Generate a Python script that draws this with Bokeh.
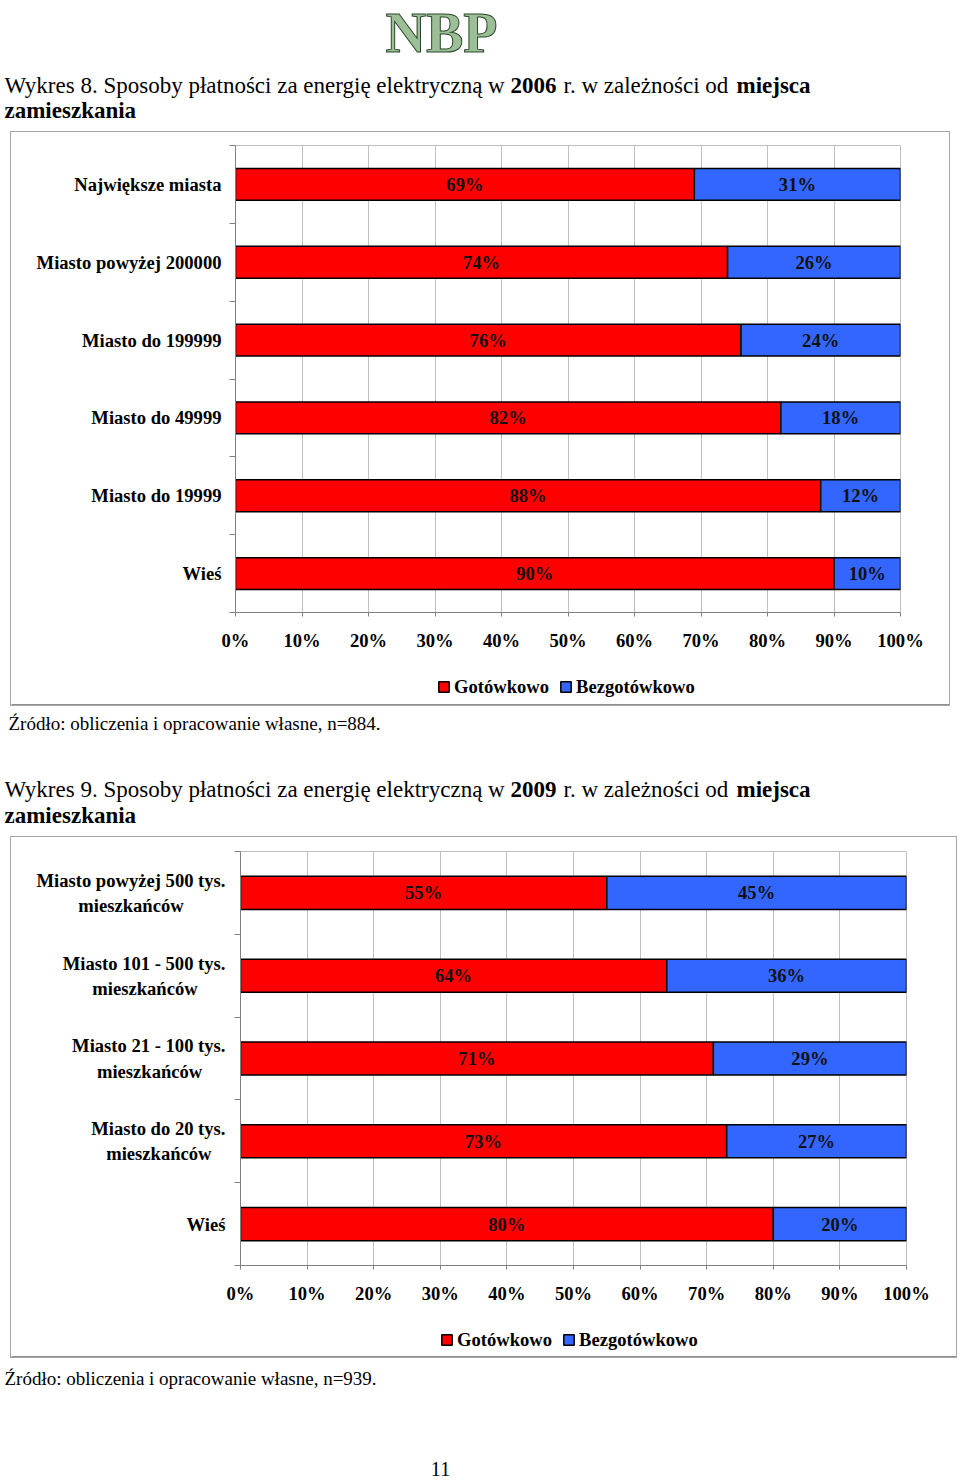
from bokeh.plotting import figure
from bokeh.models import (ColumnDataSource, Range1d, FixedTicker, Legend,
                          LegendItem, PrintfTickFormatter, Spacer)
from bokeh.layouts import column, row
from bokeh.embed import file_html
from bokeh.resources import INLINE
from bokeh.core.properties import value

# ---------------- data ----------------
categories_2006 = ["Największe miasta", "Miasto powyżej 200000", "Miasto do 199999",
                   "Miasto do 49999", "Miasto do 19999", "Wieś"]
cash_2006 = [69, 74, 76, 82, 88, 90]
noncash_2006 = [31, 26, 24, 18, 12, 10]

# two-line labels; trailing no-break spaces centre the second line under the first
NB = "\u00a0"
categories_2009 = ["Miasto powyżej 500 tys.\nmieszkańców" + NB * 9,
                   "Miasto 101 - 500 tys.\nmieszkańców" + NB * 6,
                   "Miasto 21 - 100 tys.\nmieszkańców" + NB * 5,
                   "Miasto do 20 tys.\nmieszkańców" + NB * 3,
                   "Wieś"]
cash_2009 = [55, 64, 71, 73, 80]
noncash_2009 = [45, 36, 29, 27, 20]

x_ticks = [0, 10, 20, 30, 40, 50, 60, 70, 80, 90, 100]
series_names = ["Gotówkowo", "Bezgotówkowo"]

# ---------------- style ----------------
SERIF = "Liberation Serif"
RED = "#FF0000"
BLUE = "#3366FF"
BOX = "#a6a6a6"
PAGE_W = 960
FS = "18.6px"
BAR_STYLE = dict(line_color="black", line_width=1.5)


def text_fig(top, bottom):
    """A figure used only for page text; y runs downward in page pixels."""
    f = figure(width=PAGE_W, height=bottom - top, output_backend="svg",
               toolbar_location=None, x_range=Range1d(0, PAGE_W),
               y_range=Range1d(bottom, top), x_axis_type=None, y_axis_type=None,
               min_border=0, outline_line_color=None)
    f.background_fill_color = "white"
    f.border_fill_color = "white"
    return f


def txt(f, x, baseline, text, size, bold=False, align="left", color="black", **kw):
    # glyph 'middle' sits about one third of the font size above the baseline
    f.text(x=[x], y=[baseline - 0.33 * size], text=[text], text_font=value(SERIF),
           text_font_size=f"{size}px", text_font_style="bold" if bold else "normal",
           text_align=align, text_baseline="middle", text_color=color, **kw)


def title_lines(f, number, year, b1, b2):
    txt(f, 4, b1, f"Wykres {number}. Sposoby płatności za energię elektryczną w", 23)
    txt(f, 510, b1, str(year), 23, bold=True)
    txt(f, 563, b1, "r. w zależności od", 23)
    txt(f, 736, b1, "miejsca", 23, bold=True)
    txt(f, 4, b2, "zamieszkania", 23, bold=True)


def line_piece(w, h):
    return Spacer(width=w, height=h, styles={"background-color": BOX})


def chart(cats, cash, noncash, box, frame, ystandoff, bar_h, legend_left, legend_mid):
    bl, br, bt, bb = box
    il, ir, it, ib = bl + 1, br - 1, bt + 1, bb - 1       # inside the 1px box line
    fl, fr, ft, fb = frame
    split = fb + 55                                       # chart figure / legend strip
    nc = len(cats)
    p = figure(width=ir - il, height=split - it, output_backend="svg", toolbar_location=None,
               x_range=Range1d(0, 100), y_range=Range1d(0, nc),
               min_border_left=fl - il, min_border_right=ir - fr,
               min_border_top=ft - it, min_border_bottom=split - fb)
    p.background_fill_color = "white"
    p.border_fill_color = "white"
    p.outline_line_color = "#c0c0c0"

    centers = [nc - i - 0.5 for i in range(nc)]
    src = ColumnDataSource(dict(
        y=centers, cash=cash, noncash=noncash,
        total=[c + d for c, d in zip(cash, noncash)],
        cash_mid=[c / 2 for c in cash],
        non_mid=[c + d / 2 for c, d in zip(cash, noncash)],
        cash_lbl=[f"{c}%" for c in cash],
        non_lbl=[f"{d}%" for d in noncash],
    ))
    p.hbar(y="y", left=0, right="cash", height=bar_h, source=src, fill_color=RED, **BAR_STYLE)
    p.hbar(y="y", left="cash", right="total", height=bar_h, source=src, fill_color=BLUE,
           **BAR_STYLE)
    for xcol, tcol in (("cash_mid", "cash_lbl"), ("non_mid", "non_lbl")):
        p.text(x=xcol, y="y", text=tcol, source=src, text_font=value(SERIF),
               text_font_style="bold", text_font_size=FS, text_align="center",
               text_baseline="middle", text_color="#111111")

    # x axis
    xa = p.xaxis[0]
    xa.ticker = FixedTicker(ticks=x_ticks)
    xa.formatter = PrintfTickFormatter(format="%d%%")
    xa.axis_line_color = "#808080"
    xa.major_tick_line_color = "#808080"
    xa.major_tick_out = 4
    xa.major_tick_in = 0
    xa.minor_tick_line_color = None
    xa.major_label_standoff = 13
    xa.major_label_text_font = SERIF
    xa.major_label_text_font_style = "bold"
    xa.major_label_text_font_size = FS
    xa.major_label_text_color = "black"

    # y axis
    ya = p.yaxis[0]
    ya.ticker = FixedTicker(ticks=centers, minor_ticks=list(range(nc + 1)))
    ya.major_label_overrides = {c: name for c, name in zip(centers, cats)}
    ya.axis_line_color = "#808080"
    ya.major_tick_out = 0
    ya.major_tick_in = 0
    ya.minor_tick_out = 6
    ya.minor_tick_in = 0
    ya.minor_tick_line_color = "#808080"
    ya.major_label_standoff = ystandoff
    ya.major_label_text_font = SERIF
    ya.major_label_text_font_style = "bold"
    ya.major_label_text_font_size = FS
    ya.major_label_text_color = "black"

    p.xgrid.grid_line_color = "#c0c0c0"
    p.ygrid.visible = False

    # legend strip (its own small figure, inside the same box)
    lh = ib - split
    lf = figure(width=ir - il, height=lh, output_backend="svg", toolbar_location=None,
                x_range=Range1d(0, 1), y_range=Range1d(0, 1), x_axis_type=None,
                y_axis_type=None, min_border=0, outline_line_color=None)
    lf.background_fill_color = "white"
    lf.border_fill_color = "white"
    # legend proxies: one series swatch each, kept outside the visible range
    proxy = dict(y=[-5], left=[0], right=[1])
    g1 = lf.hbar(y="y", left="left", right="right", height=0.5,
                 source=ColumnDataSource(proxy), fill_color=RED, **BAR_STYLE)
    g2 = lf.hbar(y="y", left="left", right="right", height=0.5,
                 source=ColumnDataSource(proxy), fill_color=BLUE, **BAR_STYLE)
    leg_h = 21
    leg = Legend(items=[LegendItem(label=series_names[0], renderers=[g1]),
                        LegendItem(label=series_names[1], renderers=[g2])],
                 orientation="horizontal",
                 location=(legend_left - il, lh - (legend_mid - split) - leg_h / 2),
                 border_line_color=None, background_fill_alpha=0, padding=0, margin=0,
                 spacing=10, label_standoff=4, glyph_width=13, glyph_height=13,
                 label_text_font=SERIF, label_text_font_style="bold",
                 label_text_font_size=FS, label_text_color="black", label_height=20)
    lf.add_layout(leg, "center")

    w, h = br - bl, bb - bt
    inner = column(p, row(lf, spacing=0), spacing=0)
    boxed = column(line_piece(w, 1),
                   row(line_piece(1, h - 2), inner, line_piece(1, h - 2), spacing=0),
                   line_piece(w, 1), spacing=0)
    return row(Spacer(width=bl, height=h), boxed, spacing=0)


# ---- page header ----
head = text_fig(0, 131)
head.text(x=[441], y=[32], text=["NBP"], text_font=value(SERIF), text_font_size="56px",
          text_font_style="bold", text_align="center", text_baseline="middle",
          text_color="#9dbf97", text_outline_color="#2b452b")
title_lines(head, 8, 2006, 93, 118)

# ---- chart 1 ----
c1 = chart(categories_2006, cash_2006, noncash_2006,
           box=(10, 950, 131, 706), frame=(235, 900, 145, 612),
           ystandoff=8, bar_h=0.41, legend_left=437, legend_mid=687)

# ---- between ----
mid = text_fig(706, 836)
txt(mid, 8, 729, "Źródło: obliczenia i opracowanie własne, n=884.", 19)
title_lines(mid, 9, 2009, 797, 823)

# ---- chart 2 ----
c2 = chart(categories_2009, cash_2009, noncash_2009,
           box=(10, 957, 836, 1358), frame=(240, 906, 851, 1265),
           ystandoff=9, bar_h=0.40, legend_left=440, legend_mid=1340)

# ---- footer ----
foot = text_fig(1358, 1481)
txt(foot, 4, 1384, "Źródło: obliczenia i opracowanie własne, n=939.", 19)
txt(foot, 440, 1475, "11", 20, align="center")

layout = column(head, c1, mid, c2, foot, spacing=0)
open("out.html", "w").write(file_html(layout, INLINE))
